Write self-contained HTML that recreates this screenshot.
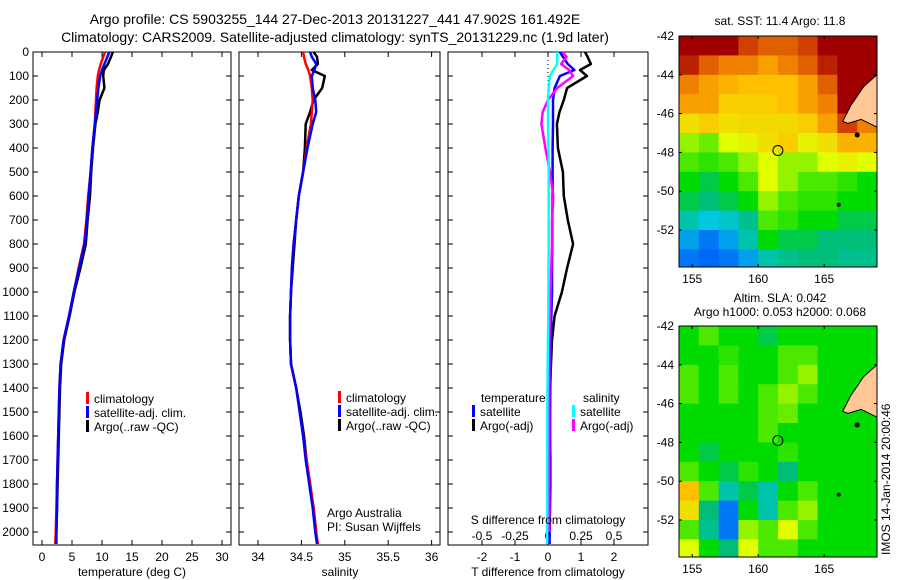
<!DOCTYPE html>
<html><head><meta charset="utf-8">
<style>
html,body{margin:0;padding:0;background:#fff;}
svg{display:block;font-family:"Liberation Sans",sans-serif;}
text{fill:#000;}
</style></head>
<body>
<svg id="fig" width="900" height="580" viewBox="0 0 900 580">
<text x="335" y="24" font-size="14" text-anchor="middle">Argo profile: CS 5903255_144 27-Dec-2013 20131227_441 47.902S 161.492E</text>
<text x="335" y="42" font-size="14" text-anchor="middle">Climatology: CARS2009. Satellite-adjusted climatology: synTS_20131229.nc (1.9d later)</text>
<g id="p1"></g>
<g id="p2"></g>
<g id="p3"></g>
<g id="m1"></g>
<g id="m2"></g>
<text x="780" y="25" font-size="12" text-anchor="middle">sat. SST: 11.4 Argo: 11.8</text>
<text x="780" y="302" font-size="12" text-anchor="middle">Altim. SLA: 0.042</text>
<text x="780" y="316" font-size="12" text-anchor="middle">Argo h1000: 0.053 h2000: 0.068</text>
<text x="0" y="0" font-size="12" transform="translate(890,555) rotate(-90)">IMOS 14-Jan-2014 20:00:46</text>
</svg>
<script>
// ---------- data ----------
const depths = [0,20,50,75,100,150,200,250,300,400,500,600,700,800,900,1000,1100,1200,1300,1400,1500,1600,1700,1800,1900,2000,2050];
const tempClim = [10.5,10.2,9.8,9.5,9.3,9.1,9.0,8.9,8.8,8.4,8.1,7.7,7.4,7.0,6.1,5.3,4.5,3.6,3.1,2.9,2.8,2.7,2.6,2.5,2.4,2.3,2.2];
const tempSat  = [11.2,10.9,10.4,10.0,9.7,9.4,9.2,9.0,8.8,8.4,8.1,7.8,7.5,7.1,6.2,5.3,4.5,3.6,3.1,2.9,2.8,2.7,2.6,2.5,2.5,2.4,2.4];
const tempArgo = [11.8,11.5,11.0,10.3,10.2,10.4,9.6,9.3,8.9,8.5,8.2,8.0,7.6,7.3,6.4,5.4,4.6,3.7,3.2,3.0,2.9,2.8,2.7,2.6,2.5,2.4,null];
const salClim = [34.52,34.53,34.55,34.58,34.60,34.62,34.63,34.62,34.61,34.56,34.52,34.47,34.44,34.41,34.39,34.38,34.37,34.37,34.38,34.44,34.48,34.52,34.56,34.60,34.64,34.67,34.69];
const salSat  = [34.60,34.62,34.67,34.65,34.62,34.63,34.66,34.67,34.63,34.57,34.52,34.47,34.44,34.41,34.39,34.38,34.37,34.37,34.38,34.44,34.48,34.52,34.55,34.59,34.63,34.66,34.68];
const salArgo = [34.64,34.68,34.69,34.62,34.77,34.74,34.64,34.60,34.55,34.54,34.52,34.47,34.44,34.42,34.40,34.38,34.37,34.37,34.38,34.44,34.49,34.53,34.56,34.60,34.64,34.67,null];
const tDiffSat  = [0.36,0.45,0.60,0.80,0.36,0.20,0.15,0.15,0.15,0.14,0.14,0.14,0.13,0.13,0.12,0.12,0.10,0.09,0.08,0.07,0.06,0.06,0.05,0.05,0.05,0.05,0.05];
const tDiffArgo = [1.12,1.20,1.30,0.97,1.18,0.58,0.48,0.35,0.27,0.30,0.45,0.48,0.60,0.76,0.58,0.42,0.20,0.12,0.09,0.06,0.06,0.06,0.07,0.07,0.06,0.05,null];
const sDiffSat  = [0.07,0.07,0.07,0.04,0.015,0.005,0.0,0.0,0.0,0.004,0.005,0.005,0.005,0.005,0.004,0.003,0.002,0.0,-0.002,-0.004,-0.005,-0.005,-0.006,-0.006,-0.006,-0.007,-0.007];
const sDiffArgo = [0.11,0.14,0.10,0.16,0.19,0.07,0.0,-0.04,-0.05,-0.02,0.015,0.04,0.03,0.03,0.025,0.02,0.015,0.01,0.01,0.01,0.01,0.01,0.01,0.01,0.01,0.01,null];
const depthTicks = [0,100,200,300,400,500,600,700,800,900,1000,1100,1200,1300,1400,1500,1600,1700,1800,1900,2000];
const tempTicks = [0,5,10,15,20,25,30];
const salTicks = [34,34.5,35,35.5,36];
const tDiffTicks = [-2,-1,0,1,2];
const sDiffTicks = [-0.5,-0.25,0,0.25,0.5];
const lonTicks = [155,160,165];
const latTicks = [-42,-44,-46,-48,-50,-52];
// map grids: 10 columns (154..169, 1.5deg), 12 rows (-42..-54, 1deg); colour index 0..1, null = land
const sstRow0=[1,1,1,.9,.85,.85,.9,1,1,1];
const sstRow1=[.95,.85,.8,.8,.75,.8,.85,.95,1,1];
const sstRow2=[.8,.75,.72,.7,.7,.7,.75,.85,1,1];
const sstRow3=[.75,.75,.68,.68,.68,.7,.75,.8,1,1];
const sstRow4=[.65,.68,.65,.66,.66,.66,.68,.75,.9,.8];
const sstRow5=[.55,.52,.6,.62,.65,.68,.62,.65,.72,.72];
const sstRow6=[.5,.48,.5,.55,.6,.55,.55,.6,.62,.6];
const sstRow7=[.45,.42,.45,.5,.6,.55,.5,.5,.48,.45];
const sstRow8=[.42,.4,.42,.45,.55,.5,.48,.48,.45,.45];
const sstRow9=[.35,.3,.32,.38,.5,.48,.45,.45,.42,.42];
const sstRow10=[.25,.2,.25,.35,.45,.42,.42,.4,.4,.4];
const sstRow11=[.2,.18,.2,.25,.35,.38,.4,.4,.38,.38];
const slaRow0=[.45,.5,.45,.45,.42,.45,.45,.45,.45,.45];
const slaRow1=[.45,.45,.48,.45,.45,.5,.5,.45,.45,.45];
const slaRow2=[.5,.45,.5,.45,.45,.5,.55,.45,.45,.45];
const slaRow3=[.5,.45,.5,.45,.5,.55,.5,.45,.45,.45];
const slaRow4=[.45,.45,.45,.45,.5,.52,.45,.45,.45,.45];
const slaRow5=[.45,.45,.45,.45,.5,.45,.45,.45,.45,.45];
const slaRow6=[.45,.42,.45,.45,.45,.48,.45,.45,.45,.45];
const slaRow7=[.5,.45,.42,.48,.45,.4,.45,.45,.45,.45];
const slaRow8=[.7,.5,.35,.42,.35,.45,.5,.45,.45,.45];
const slaRow9=[.65,.4,.2,.45,.35,.5,.55,.45,.45,.45];
const slaRow10=[.5,.38,.2,.55,.5,.6,.5,.45,.45,.45];
const slaRow11=[.6,.45,.4,.6,.5,.5,.45,.45,.45,.45];
const argoLon = 161.492, argoLat = -47.902;

// ---------- helpers ----------
const NS="http://www.w3.org/2000/svg";
function mk(parent,tag,attrs){const e=document.createElementNS(NS,tag);for(const k in attrs)e.setAttribute(k,attrs[k]);parent.appendChild(e);return e;}
const yTop=52,yBot=545;
function yD(d){return yTop+d*0.24;}

function panel(g,x0,x1,xs,ticks,fmt,showDepth){
  const r=mk(g,'rect',{x:x0,y:yTop,width:x1-x0,height:yBot-yTop,fill:'none',stroke:'#000','stroke-width':1});
  
  
  depthTicks.forEach(d=>{
    const y=yD(d);
    mk(g,'line',{x1:x0,y1:y,x2:x0+5,y2:y,stroke:'#000'});
    mk(g,'line',{x1:x1,y1:y,x2:x1-5,y2:y,stroke:'#000'});
    if(showDepth){const t=mk(g,'text',{x:x0-4,y:y+4,'font-size':12,'text-anchor':'end'});t.textContent=d;
      
      }
  });
  ticks.forEach(v=>{
    const x=xs(v);
    mk(g,'line',{x1:x,y1:yBot,x2:x,y2:yBot-5,stroke:'#000'});
    mk(g,'line',{x1:x,y1:yTop,x2:x,y2:yTop+5,stroke:'#000'});
    if(fmt){const t=mk(g,'text',{x:x,y:561,'font-size':12,'text-anchor':'middle'});t.textContent=fmt(v);
      
      }
  });
}
function line(g,xs,vals,color,w,name){
  let d='';let pen=false;
  vals.forEach((v,i)=>{if(v===null){pen=false;return;}d+=(pen?'L':'M')+xs(v).toFixed(1)+','+yD(depths[i]).toFixed(1);pen=true;});
  const p=mk(g,'path',{d:d,fill:'none',stroke:color,'stroke-width':w,'stroke-linejoin':'round'});
  
  
}
function legend(g,x,y,items){
  items.forEach((it,i)=>{
    const yy=y+i*14;
    mk(g,'rect',{x:x,y:yy-6,width:3,height:12,fill:it[1]});
    const t=mk(g,'text',{x:x+8,y:yy+5,'font-size':12});t.textContent=it[0];
    
    
  });
}
function txt(g,x,y,s,anchor,name){const t=mk(g,'text',{x:x,y:y,'font-size':12,'text-anchor':anchor||'start'});t.textContent=s;
  
  return t;}

// ---------- panel 1: temperature ----------
const g1=document.getElementById('p1');
const xT=v=>42+v*6;
panel(g1,33,231,xT,tempTicks,v=>v,true);
line(g1,xT,tempArgo,'#000',2.5,'temp-argo-line');
line(g1,xT,tempClim,'#f00',2.5,'temp-climatology-line');
line(g1,xT,tempSat,'#00f',2.5,'temp-satellite-line');
legend(g1,86,398,[['climatology','#f00'],['satellite-adj. clim.','#00f'],['Argo(..raw -QC)','#000']]);
txt(g1,132,576,'temperature (deg C)','middle','x-axis-title-temperature');

// ---------- panel 2: salinity ----------
const g2=document.getElementById('p2');
const xS=v=>258+(v-34)*86.8;
panel(g2,239,440,xS,salTicks,v=>v,false);
line(g2,xS,salArgo,'#000',2.5,'sal-argo-line');
line(g2,xS,salClim,'#f00',2.5,'sal-climatology-line');
line(g2,xS,salSat,'#00f',2.5,'sal-satellite-line');
legend(g2,338,397,[['climatology','#f00'],['satellite-adj. clim.','#00f'],['Argo(..raw -QC)','#000']]);
txt(g2,327,517,'Argo Australia','start','credit-line-1');
txt(g2,327,531,'PI: Susan Wijffels','start','credit-line-2');
txt(g2,340,576,'salinity','middle','x-axis-title-salinity');

// ---------- panel 3: differences ----------
const g3=document.getElementById('p3');
const xTd=v=>548+v*33;
const xSd=v=>548+v*132;
panel(g3,448,648,xTd,tDiffTicks,v=>v,false);
sDiffTicks.forEach(v=>{txt(g3,xSd(v),540,String(v).replace('0.','0.'),'middle','s-diff-tick-label');});
const zl=mk(g3,'line',{x1:548,y1:yTop,x2:548,y2:yBot,stroke:'#000','stroke-dasharray':'1,3'});


line(g3,xTd,tDiffArgo,'#000',2.5,'t-diff-argo-line');
line(g3,xTd,tDiffSat,'#00f',2.5,'t-diff-satellite-line');
line(g3,xSd,sDiffArgo,'#f0f',2.5,'s-diff-argo-line');
line(g3,xSd,sDiffSat,'#0ff',2.5,'s-diff-satellite-line');
txt(g3,481,402,'temperature','start','legend-title-temperature');
txt(g3,583,402,'salinity','start','legend-title-salinity');
legend(g3,472,411,[['satellite','#00f'],['Argo(-adj)','#000']]);
legend(g3,572,411,[['satellite','#0ff'],['Argo(-adj)','#f0f']]);
txt(g3,548,524,'S difference from climatology','middle','s-diff-axis-title');
txt(g3,548,576,'T difference from climatology','middle','t-diff-axis-title');

// ---------- maps ----------
const stops=[[0,[0,0,143]],[0.15,[0,80,255]],[0.3,[0,200,224]],[0.4,[0,190,120]],[0.45,[0,220,0]],[0.6,[224,255,0]],[0.7,[255,192,0]],[0.8,[240,128,0]],[0.9,[208,64,0]],[1,[160,0,0]]];
function cmap(v){for(let i=1;i<stops.length;i++){if(v<=stops[i][0]){const a=stops[i-1],b=stops[i];const t=(v-a[0])/(b[0]-a[0]);const c=a[1].map((x,k)=>Math.round(x+(b[1][k]-x)*t));return 'rgb('+c.join(',')+')';}}return 'rgb(160,0,0)';}
function map(g,top,rows,prefix){
  const x0=679,x1=877,bottom=top+231;
  const lx=lon=>x0+(lon-154)*(x1-x0)/15;
  const ly=lat=>top+(-42-lat)*19.4;
  rows.forEach((row,r)=>row.forEach((v,c)=>{
    const x=lx(154+c*1.5),y=ly(-42-r);
    const cell=mk(g,'rect',{x:x.toFixed(1),y:y.toFixed(1),width:(lx(155.5)-lx(154)+0.5).toFixed(1),height:Math.min(19.9,bottom-y).toFixed(1),fill:cmap(v)});
    
    
  }));
  const land=mk(g,'polygon',{points:[[x1,ly(-44)],[lx(168),ly(-44.6)],[lx(167),ly(-45.6)],[lx(166.4),ly(-46.4)],[lx(166.8),ly(-46.5)],[lx(167.8),ly(-46.3)],[x1,ly(-46.7)]].map(p=>p.join(',')).join(' '),fill:'#ffc896',stroke:'#000','stroke-width':1});
  
  
  const isl=mk(g,'circle',{cx:lx(167.5),cy:ly(-47.1),r:2.5,fill:'#000'});
  
  
  const isl2=mk(g,'circle',{cx:lx(166.1),cy:ly(-50.7),r:2,fill:'#000'});
  
  
  const fr=mk(g,'rect',{x:x0,y:top,width:x1-x0,height:bottom-top,fill:'none',stroke:'#000'});
  
  
  const c=mk(g,'circle',{cx:lx(argoLon),cy:ly(argoLat),r:5,fill:'none',stroke:'#000','stroke-width':1});
  
  
  latTicks.forEach(l=>{const y=ly(l);mk(g,'line',{x1:x0,y1:y,x2:x0+3,y2:y,stroke:'#000'});mk(g,'line',{x1:x1,y1:y,x2:x1-3,y2:y,stroke:'#000'});
    txt(g,x0-5,y+4,l,'end','lat-tick-label');});
  lonTicks.forEach(l=>{const x=lx(l);mk(g,'line',{x1:x,y1:top,x2:x,y2:top+3,stroke:'#000'});mk(g,'line',{x1:x,y1:bottom,x2:x,y2:bottom-3,stroke:'#000'});
    txt(g,x,bottom+16,l,'middle','lon-tick-label');});
}
map(document.getElementById('m1'),36,[sstRow0,sstRow1,sstRow2,sstRow3,sstRow4,sstRow5,sstRow6,sstRow7,sstRow8,sstRow9,sstRow10,sstRow11],'sst');
map(document.getElementById('m2'),326,[slaRow0,slaRow1,slaRow2,slaRow3,slaRow4,slaRow5,slaRow6,slaRow7,slaRow8,slaRow9,slaRow10,slaRow11],'sla');
</script>
</body></html>
